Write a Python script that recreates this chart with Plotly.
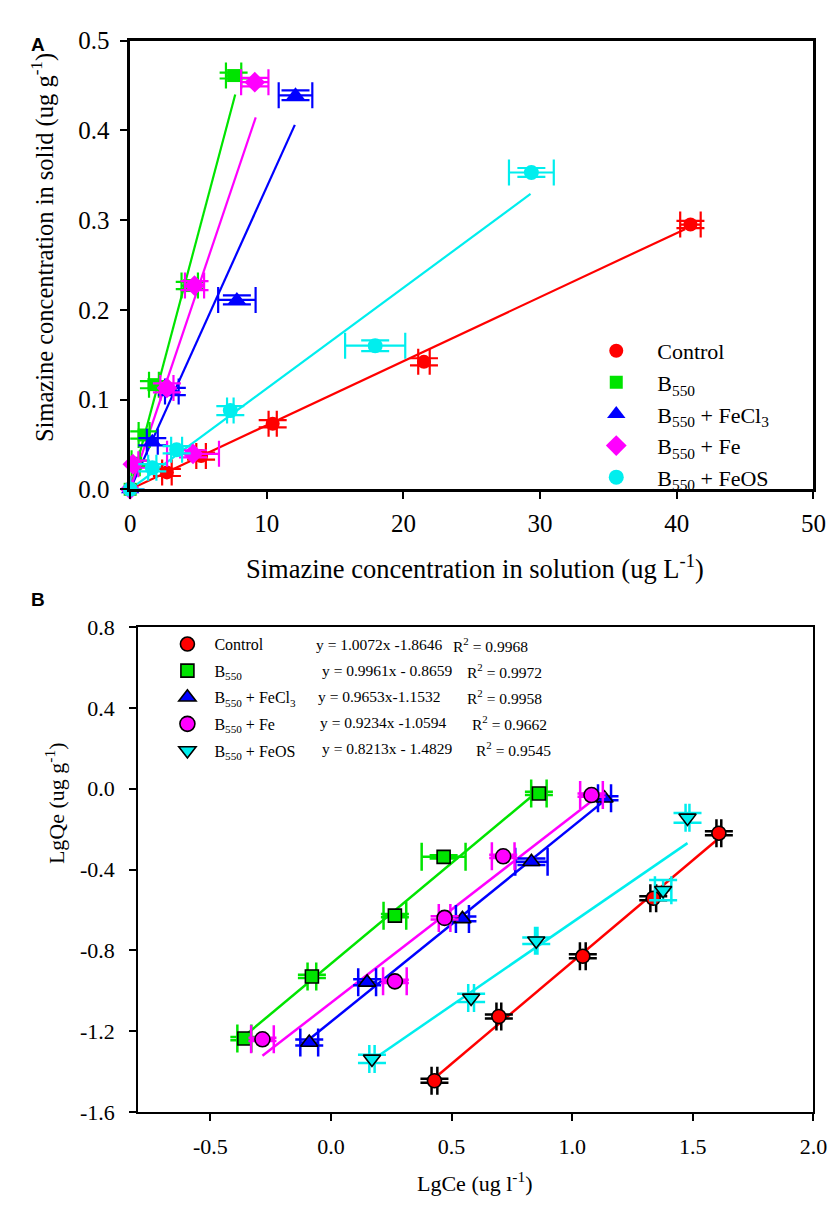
import plotly.graph_objects as go

W, H = 837, 1208
SERIF = "Liberation Serif"
SANS = "Liberation Sans"

# ---------------- shared series info ----------------
names = ["Control", "B<sub>550</sub>", "B<sub>550</sub> + FeCl<sub>3</sub>",
         "B<sub>550</sub> + Fe", "B<sub>550</sub> + FeOS"]
colors = ["#ff0000", "#00e400", "#0000ff", "#ff00ff", "#00eeee"]

# ---------------- Panel A: isotherm data (x = solution, y = solid) ----------------
a_x = [
    [0, 2.69, 5.19, 10.43, 21.5, 41.0],          # Control
    [0, 0.40, 1.02, 1.74, 4.36, 7.57],           # B550
    [0, 1.62, 3.05, 7.81, 12.1],                 # B550 + FeCl3
    [0, 0.20, 2.69, 4.60, 4.71, 9.12],           # B550 + Fe
    [0, 1.62, 3.40, 7.33, 17.93, 29.36],         # B550 + FeOS
]
a_y = [
    [0, 0.0188, 0.037, 0.073, 0.142, 0.295],
    [0, 0.029, 0.0605, 0.1166, 0.227, 0.461],
    [0, 0.053, 0.109, 0.211, 0.439],
    [0, 0.028, 0.113, 0.0395, 0.227, 0.4536],
    [0, 0.024, 0.044, 0.0877, 0.160, 0.353],
]
a_xerr = [
    [0, 0.35, 0.35, 0.30, 0.42, 0.75],
    [0, 0.30, 0.40, 0.36, 0.60, 0.56],
    [0, 0.40, 0.50, 1.37, 1.23],
    [0, 0.40, 0.48, 1.90, 0.70, 1.00],
    [0, 0.30, 0.40, 0.24, 2.20, 1.64],
]
a_yerr = [
    [0, 0.004, 0.004, 0.004, 0.004, 0.004],
    [0, 0.003, 0.004, 0.004, 0.004, 0.0033],
    [0, 0.004, 0.004, 0.005, 0.0054],
    [0, 0.004, 0.005, 0.004, 0.005, 0.0047],
    [0, 0.004, 0.004, 0.005, 0.006, 0.005],
]
# linear fits through origin (slope, end of fitted line)
a_slope = [0.00714, 0.0572, 0.0337, 0.0451, 0.01123]
a_line_end = [40.6, 7.69, 12.05, 9.19, 29.3]
a_symbols = ["circle", "square", "triangle-up", "diamond", "circle"]
a_sizes = [14, 13, 16, 16, 15]

# ---------------- Panel B: log-transformed data ----------------
b_x = [
    [0.429, 0.696, 1.044, 1.336, 1.608],
    [-0.359, -0.079, 0.265, 0.467, 0.862],
    [-0.090, 0.150, 0.545, 0.831, 1.134],
    [-0.284, 0.265, 0.471, 0.714, 1.080],
    [0.170, 0.581, 0.851, 1.377, 1.478],
]
b_y = [
    [-1.445, -1.127, -0.829, -0.542, -0.220],
    [-1.236, -0.929, -0.628, -0.337, -0.023],
    [-1.256, -0.958, -0.644, -0.361, -0.047],
    [-1.240, -0.953, -0.639, -0.334, -0.031],
    [-1.337, -1.035, -0.752, -0.502, -0.144],
]
b_xerr = [
    [0.012, 0.010, 0.012, 0.012, 0.010],
    [0.029, 0.018, 0.047, 0.091, 0.032],
    [0.037, 0.037, 0.027, 0.067, 0.027],
    [0.047, 0.049, 0.024, 0.047, 0.047],
    [0.011, 0.012, 0.005, 0.034, 0.008],
]
b_yerr = [
    [0.010, 0.010, 0.010, 0.010, 0.010],
    [0.008, 0.008, 0.008, 0.008, 0.008],
    [0.015, 0.015, 0.012, 0.016, 0.010],
    [0.008, 0.008, 0.008, 0.008, 0.008],
    [0.020, 0.020, 0.016, 0.050, 0.024],
]
b_slope = [1.0072, 0.9961, 0.9653, 0.9234, 0.8213]
b_intercept = [-1.8646, -0.8659, -1.1532, -1.0594, -1.4829]
b_r2 = ["0.9968", "0.9972", "0.9958", "0.9662", "0.9545"]
b_eq_text = ["y = 1.0072x -1.8646", "y = 0.9961x - 0.8659", "y = 0.9653x-1.1532",
             "y = 0.9234x -1.0594", "y = 0.8213x - 1.4829"]
b_symbols = ["circle", "square", "triangle-up", "circle", "triangle-down"]
b_sizes = [14, 13, 15, 15, 15]
b_err_colors = ["#000000", colors[1], colors[2], colors[3], colors[4]]

# axis ticks
a_xticks = [0, 10, 20, 30, 40, 50]
a_yticks = [0.0, 0.1, 0.2, 0.3, 0.4, 0.5]
b_xticks = [-0.5, 0.0, 0.5, 1.0, 1.5, 2.0]
b_xticktext = ["-0.5", "0.0", "0.5", "1.0", "1.5", "2.0"]
b_yticks = [-1.6, -1.2, -0.8, -0.4, 0.0, 0.4, 0.8]
b_yticktext = ["-1.6", "-1.2", "-0.8", "-0.4", "0.0", "0.4", "0.8"]

fig = go.Figure()

# ---- Panel A traces ----
for i in range(5):
    fig.add_trace(go.Scatter(
        x=[0, a_line_end[i]], y=[0, a_slope[i] * a_line_end[i]],
        mode="lines", line=dict(color=colors[i], width=2.2),
        showlegend=False, hoverinfo="skip", xaxis="x", yaxis="y", cliponaxis=False))
for i in range(5):
    fig.add_trace(go.Scatter(
        x=a_x[i], y=a_y[i], mode="markers", name=names[i],
        marker=dict(symbol=a_symbols[i], size=a_sizes[i], color=colors[i], line=dict(width=0)),
        error_x=dict(type="data", array=a_xerr[i], color=colors[i], thickness=2.2, width=13),
        error_y=dict(type="data", array=a_yerr[i], color=colors[i], thickness=2.2, width=14),
        xaxis="x", yaxis="y", legend="legend", cliponaxis=False))

# ---- Panel B traces ----
for i in range(5):
    x0, x1 = min(b_x[i]), max(b_x[i])
    fig.add_trace(go.Scatter(
        x=[x0, x1], y=[b_slope[i] * x0 + b_intercept[i], b_slope[i] * x1 + b_intercept[i]],
        mode="lines", line=dict(color=colors[i], width=2.5),
        showlegend=False, hoverinfo="skip", xaxis="x2", yaxis="y2"))
for i in range(5):
    fig.add_trace(go.Scatter(
        x=b_x[i], y=b_y[i], mode="markers", name=names[i],
        marker=dict(symbol=b_symbols[i], size=b_sizes[i], color=colors[i],
                    line=dict(color="black", width=1.6)),
        error_x=dict(type="data", array=b_xerr[i], color=b_err_colors[i], thickness=2.5, width=14),
        error_y=dict(type="data", array=b_yerr[i], color=b_err_colors[i], thickness=2.5, width=14),
        xaxis="x2", yaxis="y2", legend="legend2", legendgroup="g%d" % i))

def px(xp):
    return xp / W

def py(yp):
    return 1 - yp / H

tickfont_a = dict(family=SERIF, size=25, color="black")
tickfont_b = dict(family=SERIF, size=22, color="black")

fig.update_layout(
    width=W, height=H,
    margin=dict(l=0, r=0, t=0, b=0),
    paper_bgcolor="white", plot_bgcolor="white",
    font=dict(family=SERIF, color="black"),
    xaxis=dict(domain=[px(119), px(819)], anchor="y", range=[0, 50],
               tickvals=a_xticks, ticktext=[str(v) for v in a_xticks],
               showline=True, linewidth=2.5, linecolor="black", mirror=True,
               ticks="outside", ticklen=7, tickwidth=2, tickcolor="black",
               showgrid=False, zeroline=False, tickfont=tickfont_a, ticklabelstandoff=3),
    yaxis=dict(domain=[py(479), py(20)], anchor="x", range=[0, 0.5],
               tickvals=a_yticks, ticktext=["%.1f" % v for v in a_yticks],
               showline=True, linewidth=2.5, linecolor="black", mirror=True,
               ticks="outside", ticklen=7, tickwidth=2, tickcolor="black",
               showgrid=False, zeroline=False, tickfont=tickfont_a, ticklabelstandoff=6),
    xaxis2=dict(domain=[px(127), px(819)], anchor="y2", range=[-0.8, 2.0],
                tickvals=b_xticks, ticktext=b_xticktext,
                showline=True, linewidth=1.5, linecolor="black", mirror=True,
                ticks="outside", ticklen=7, tickwidth=1.5, tickcolor="black",
                showgrid=False, zeroline=False, tickfont=tickfont_b, ticklabelstandoff=7),
    yaxis2=dict(domain=[py(1116), py(620)], anchor="x2", range=[-1.6, 0.8],
                tickvals=b_yticks, ticktext=b_yticktext,
                showline=True, linewidth=1.5, linecolor="black", mirror=True,
                ticks="outside", ticklen=7, tickwidth=1.5, tickcolor="black",
                showgrid=False, zeroline=False, tickfont=tickfont_b, ticklabelstandoff=10),
    legend=dict(x=px(575), y=py(316), xanchor="left", yanchor="top",
                bgcolor="rgba(0,0,0,0)", borderwidth=0, itemwidth=72,
                font=dict(family=SERIF, size=22, color="black"), tracegroupgap=0),
    legend2=dict(x=px(150), y=py(620), xanchor="left", yanchor="top",
                 bgcolor="rgba(0,0,0,0)", borderwidth=0, itemwidth=44,
                 font=dict(family=SERIF, size=16, color="black"), tracegroupgap=2.8),
)

annotations = [
    dict(text="<b>A</b>", x=px(25), y=py(24), font=dict(family=SANS, size=19)),
    dict(text="<b>B</b>", x=px(25), y=py(592), font=dict(family=SANS, size=19)),
    dict(text="Simazine concentration in solid (ug g<sup>-1</sup>)", x=px(30), y=py(232),
         textangle=-90, font=dict(family=SERIF, size=24.5)),
    dict(text="Simazine concentration in solution (ug L<sup>-1</sup>)", x=px(472), y=py(558),
         font=dict(family=SERIF, size=26.5)),
    dict(text="LgCe (ug l<sup>-1</sup>)", x=px(472), y=py(1188), font=dict(family=SERIF, size=22)),
    dict(text="LgQe (ug g<sup>-1</sup>)", x=px(42), y=py(800), textangle=-90,
         font=dict(family=SERIF, size=22)),
]
row0, pitch = 638, 26.6
eq_x = [307, 313, 309, 311, 313]
r2_x = [448, 462, 462, 467, 471]
for i in range(5):
    yy = py(row0 + pitch * i)
    annotations.append(dict(text=b_eq_text[i], x=px(eq_x[i]), y=yy, xanchor="left",
                            font=dict(family=SERIF, size=15.5)))
    annotations.append(dict(text="R<sup>2</sup> = " + b_r2[i], x=px(r2_x[i]), y=yy, xanchor="left",
                            font=dict(family=SERIF, size=15.5)))
for a in annotations:
    a.setdefault("xref", "paper")
    a.setdefault("yref", "paper")
    a.setdefault("showarrow", False)
    a.setdefault("xanchor", "center")
    a.setdefault("yanchor", "middle")
fig.update_layout(annotations=annotations)

fig.write_html("out.html")
